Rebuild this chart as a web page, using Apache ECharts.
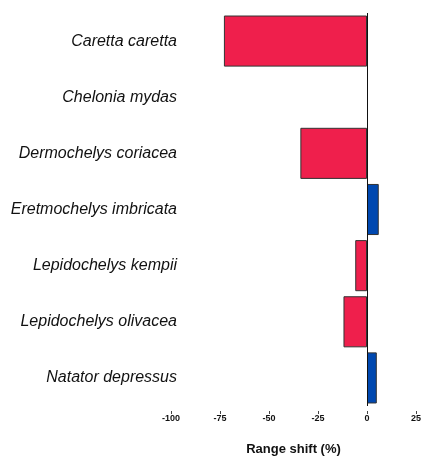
<!DOCTYPE html>
<html>
<head>
<meta charset="utf-8">
<script src="https://cdn.jsdelivr.net/npm/echarts@6/dist/echarts.min.js"></script>
<style>
  html, body { margin: 0; padding: 0; background: #fff; }
  #chart { width: 423px; height: 458px; }
</style>
</head>
<body>
<div id="chart"></div>
<script>
const species = [
  "Caretta caretta",
  "Chelonia mydas",
  "Dermochelys coriacea",
  "Eretmochelys imbricata",
  "Lepidochelys kempii",
  "Lepidochelys olivacea",
  "Natator depressus",
];
const rangeShift = [-73, 0, -34, 6, -6, -12, 5];
const xTicks = [-100, -75, -50, -25, 0, 25];

const RED = "#ef1f4c", BLUE = "#0048b0";

let myChart = echarts.init(document.getElementById("chart"));
myChart.setOption({
  animation: false,
  grid: { left: 171, right: 7, top: 13, bottom: 52, containLabel: false, outerBoundsMode: "none" },
  xAxis: {
    type: "value",
    min: xTicks[0],
    max: xTicks[xTicks.length - 1],
    interval: 25,
    offset: 5,
    name: "Range shift (%)",
    nameLocation: "middle",
    nameGap: 32,
    nameTextStyle: { fontFamily: "Liberation Sans", fontWeight: "bold", fontSize: 13, color: "#111" },
    axisLine: { show: false },
    axisTick: { show: true, length: 3, lineStyle: { color: "#444" } },
    axisLabel: { margin: 3, fontFamily: "Liberation Sans", fontWeight: "bold", fontSize: 9, color: "#111" },
    splitLine: { show: false },
  },
  yAxis: {
    type: "category",
    inverse: true,
    data: species,
    axisLine: { show: false },
    axisTick: { show: false },
    axisLabel: { margin: -6, fontFamily: "Liberation Sans", fontStyle: "italic", fontSize: 16, color: "#111" },
  },
  series: [
    {
      type: "bar",
      // zero-length bars get no outline
      data: rangeShift.map((v) => (v === 0 ? { value: v, itemStyle: { borderWidth: 0 } } : v)),
      barCategoryGap: "9%",
      itemStyle: {
        color: (p) => (p.value < 0 ? RED : BLUE),
        borderColor: "#333",
        borderWidth: 1,
      },
      markLine: {
        silent: true,
        symbol: "none",
        label: { show: false },
        lineStyle: { color: "#111", width: 1, type: "solid" },
        data: [{ xAxis: 0 }],
      },
    },
  ],
});
</script>
</body>
</html>
